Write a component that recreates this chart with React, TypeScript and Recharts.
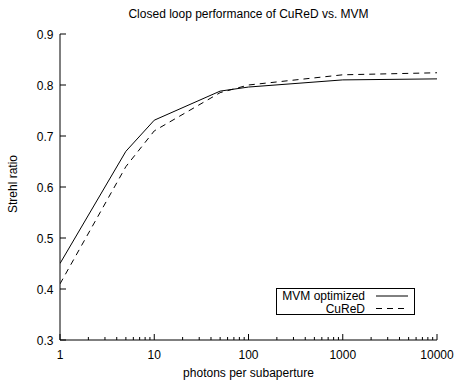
import React from 'react';
import { LineChart, Line, XAxis, YAxis, Legend } from 'recharts';

// photons per subaperture
const photons = [1, 5, 10, 50, 100, 1000, 10000];
// Strehl ratio per method
const mvmOptimized = [0.45, 0.67, 0.731, 0.788, 0.796, 0.81, 0.812];
const cured = [0.41, 0.64, 0.71, 0.785, 0.8, 0.82, 0.824];
const seriesNames = ['MVM optimized', 'CuReD'];

const majorXTicks = [1, 10, 100, 1000, 10000];
const minorXTicks = [
  2, 3, 4, 5, 6, 7, 8, 9,
  20, 30, 40, 50, 60, 70, 80, 90,
  200, 300, 400, 500, 600, 700, 800, 900,
  2000, 3000, 4000, 5000, 6000, 7000, 8000, 9000,
];
const yTicks = [0.3, 0.4, 0.5, 0.6, 0.7, 0.8, 0.9];

const data = photons.map((p, i) => ({ photons: p, mvm: mvmOptimized[i], cured: cured[i] }));
const allXTicks = [...majorXTicks, ...minorXTicks].sort((a, b) => a - b);

const FONT = '"Liberation Sans", Arial, Helvetica, sans-serif';

const isMajor = (v: number) => majorXTicks.includes(v);

const BottomTick = (props: any) => {
  const { x, y, payload } = props;
  const len = isMajor(payload.value) ? 6 : 3;
  return (
    <g>
      <line x1={x} x2={x} y1={y} y2={y - len} stroke="#000" strokeWidth={1} />
      {isMajor(payload.value) && (
        <text x={x} y={y + 19} textAnchor="middle" fontSize={12} fontFamily={FONT} fill="#000">
          {payload.value}
        </text>
      )}
    </g>
  );
};

const TopTick = (props: any) => {
  const { x, y, payload } = props;
  const len = isMajor(payload.value) ? 6 : 3;
  return <line x1={x} x2={x} y1={y} y2={y + len} stroke="#000" strokeWidth={1} />;
};

const LeftTick = (props: any) => {
  const { x, y, payload } = props;
  return (
    <g>
      <line x1={x} x2={x + 6} y1={y} y2={y} stroke="#000" strokeWidth={1} />
      <text x={x - 6.5} y={y + 4.5} textAnchor="end" fontSize={12} fontFamily={FONT} fill="#000">
        {payload.value.toFixed(1)}
      </text>
    </g>
  );
};

const RightTick = (props: any) => {
  const { x, y } = props;
  return <line x1={x} x2={x - 6} y1={y} y2={y} stroke="#000" strokeWidth={1} />;
};

const renderLegend = (props: any) => {
  const items = [...(props.payload || [])].sort(
    (a: any, b: any) => seriesNames.indexOf(a.value) - seriesNames.indexOf(b.value)
  );
  return (
    <svg width={139} height={27} style={{ display: 'block' }}>
      <rect x={0.5} y={0.5} width={138} height={26} fill="#fff" stroke="#000" strokeWidth={1} />
      {items.map((entry: any, i: number) => {
        const cy = 8 + i * 12.5;
        return (
          <g key={entry.value}>
            <text x={89} y={cy + 4} textAnchor="end" fontSize={12} fontFamily={FONT} fill="#000">
              {entry.value}
            </text>
            <line
              x1={100}
              x2={132}
              y1={cy}
              y2={cy}
              stroke="#000"
              strokeWidth={1}
              strokeDasharray={entry.payload?.strokeDasharray}
            />
          </g>
        );
      })}
    </svg>
  );
};

const YLabel = () => (
  <text
    x={17}
    y={184}
    transform="rotate(-90, 17, 184)"
    textAnchor="middle"
    fontSize={12}
    fontFamily={FONT}
    fill="#000"
  >
    Strehl ratio
  </text>
);

export default function App() {
  return (
    <div style={{ position: 'absolute', left: 0, top: 0, width: 455, height: 380, background: '#fff' }}>
      <div
        style={{
          position: 'absolute',
          left: 0,
          top: 6,
          width: 497,
          textAlign: 'center',
          fontSize: 12,
          fontFamily: FONT,
          lineHeight: '16px',
        }}
      >
        Closed loop performance of CuReD vs. MVM
      </div>
      <LineChart width={455} height={380} data={data} margin={{ top: 34, right: 18, left: 0, bottom: 0 }}>
        <XAxis
          dataKey="photons"
          type="number"
          scale="log"
          domain={[1, 10000]}
          ticks={allXTicks}
          interval={0}
          height={40}
          tickSize={0}
          tickMargin={0}
          tick={<BottomTick />}
          axisLine={{ stroke: '#000', strokeWidth: 1 }}
          allowDataOverflow
          label={{
            value: 'photons per subaperture',
            position: 'insideBottom',
            offset: 3,
            fontSize: 12,
            fontFamily: FONT,
            fill: '#000',
          }}
        />
        <XAxis
          xAxisId="top"
          orientation="top"
          type="number"
          scale="log"
          domain={[1, 10000]}
          ticks={allXTicks}
          interval={0}
          height={0}
          tickSize={0}
          tickMargin={0}
          tick={<TopTick />}
          axisLine={{ stroke: '#000', strokeWidth: 1 }}
          allowDataOverflow
        />
        <YAxis
          type="number"
          domain={[0.3, 0.9]}
          ticks={yTicks}
          interval={0}
          width={60}
          tickSize={0}
          tickMargin={0}
          tick={<LeftTick />}
          axisLine={{ stroke: '#000', strokeWidth: 1 }}
          allowDataOverflow
          label={<YLabel />}
        />
        <YAxis
          yAxisId="right"
          orientation="right"
          type="number"
          domain={[0.3, 0.9]}
          ticks={yTicks}
          interval={0}
          width={0}
          tickSize={0}
          tickMargin={0}
          tick={<RightTick />}
          axisLine={{ stroke: '#000', strokeWidth: 1 }}
          allowDataOverflow
        />
        <Legend
          layout="horizontal"
          verticalAlign="middle"
          align="center"
          content={renderLegend}
          wrapperStyle={{ position: 'absolute', left: 276, top: 288, width: 139, height: 27 }}
        />
        <Line
          type="linear"
          dataKey="mvm"
          name={seriesNames[0]}
          stroke="#000"
          strokeWidth={1}
          dot={false}
          isAnimationActive={false}
        />
        <Line
          type="linear"
          dataKey="cured"
          name={seriesNames[1]}
          stroke="#000"
          strokeWidth={1}
          strokeDasharray="6 5"
          dot={false}
          isAnimationActive={false}
        />
      </LineChart>
    </div>
  );
}
